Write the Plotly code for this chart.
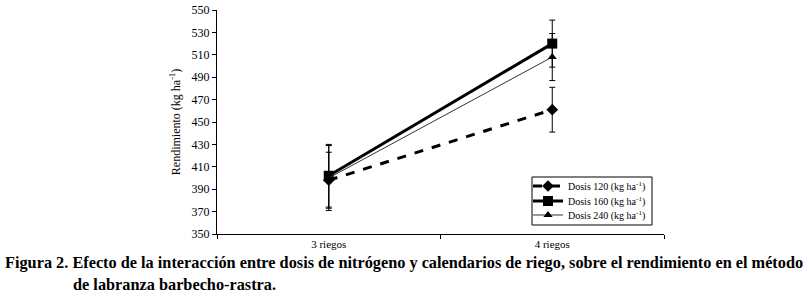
import plotly.graph_objects as go

categories = ["3 riegos", "4 riegos"]
dosis120 = [398, 461]
dosis160 = [402, 520]
dosis240 = [400, 508]
err120 = [25, 20]
err160 = [28, 21]
err240 = [29, 21]
names = ["Dosis 120 (kg ha<sup>-1</sup>)", "Dosis 160 (kg ha<sup>-1</sup>)", "Dosis 240 (kg ha<sup>-1</sup>)"]
yticks = list(range(350, 551, 20))

serif = "Liberation Serif"

W, H = 812, 298
L, T = 217, 10
R = W - 664
B = H - 234
pw = W - L - R
ph = H - T - B

def px_x(x):
    return (x - L) / pw

def px_y(y):
    return (H - B - y) / ph

fig = go.Figure()
fig.add_trace(go.Scatter(
    x=categories, y=dosis120, name=names[0], mode="lines+markers", legend="legend",
    line=dict(color="black", width=3, dash="dash"),
    marker=dict(symbol="diamond", size=9, color="black"),
    error_y=dict(type="data", array=err120, color="black", thickness=1, width=3)))
fig.add_trace(go.Scatter(
    x=categories, y=dosis160, name=names[1], mode="lines+markers", legend="legend2",
    line=dict(color="black", width=3),
    marker=dict(symbol="square", size=10, color="black"),
    error_y=dict(type="data", array=err160, color="black", thickness=1, width=3)))
fig.add_trace(go.Scatter(
    x=categories, y=dosis240, name=names[2], mode="lines+markers", legend="legend3",
    line=dict(color="#333333", width=1),
    marker=dict(symbol="triangle-up", size=8, color="black"),
    error_y=dict(type="data", array=err240, color="black", thickness=1, width=3)))

leg_common = dict(xanchor="left", yanchor="middle", borderwidth=0,
                  bgcolor="rgba(0,0,0,0)", font=dict(family=serif, size=10),
                  itemwidth=30)
leg_x = px_x(528)

fig.update_layout(
    width=W, height=H,
    margin=dict(l=L, r=R, t=T, b=B, pad=0, autoexpand=False),
    paper_bgcolor="white", plot_bgcolor="white",
    font=dict(family=serif, size=11, color="black"),
    showlegend=True,
    legend=dict(x=leg_x, y=px_y(186), **leg_common),
    legend2=dict(x=leg_x, y=px_y(201), **leg_common),
    legend3=dict(x=leg_x, y=px_y(215), **leg_common),
    xaxis=dict(type="category", range=[-0.5, 1.5], showline=True, linecolor="black",
               linewidth=1, ticks="outside", ticklen=4, tickson="boundaries",
               tickcolor="black", showgrid=False, zeroline=False, automargin=False,
               tickfont=dict(family=serif, size=11)),
    yaxis=dict(range=[350, 550], tickvals=yticks, showline=True, linecolor="black",
               linewidth=1, ticks="outside", ticklen=4, tickcolor="black",
               showgrid=False, zeroline=False, automargin=False,
               ticklabeloverflow="allow",
               title=dict(text="Rendimiento (kg ha<sup>-1</sup>)", standoff=8,
                          font=dict(family=serif, size=12)),
               tickfont=dict(family=serif, size=12)),
)

# legend frame
fig.add_shape(type="rect", xref="paper", yref="paper",
              x0=px_x(532), x1=px_x(652), y0=px_y(225), y1=px_y(177),
              line=dict(color="black", width=1), fillcolor="white", layer="above")

cap_font = dict(family=serif, size=16.3, color="black")
fig.add_annotation(text="<b>Figura 2. Efecto de la interacción entre dosis de nitrógeno y calendarios de riego, sobre el rendimiento en el método</b>",
                   xref="paper", yref="paper", x=px_x(3), y=px_y(262),
                   xanchor="left", yanchor="middle", showarrow=False, font=cap_font)
fig.add_annotation(text="<b>de labranza barbecho-rastra.</b>",
                   xref="paper", yref="paper", x=px_x(71), y=px_y(284),
                   xanchor="left", yanchor="middle", showarrow=False, font=cap_font)

fig.write_html("out.html", config={"displayModeBar": False},
               post_script="document.body.style.margin='0';")
